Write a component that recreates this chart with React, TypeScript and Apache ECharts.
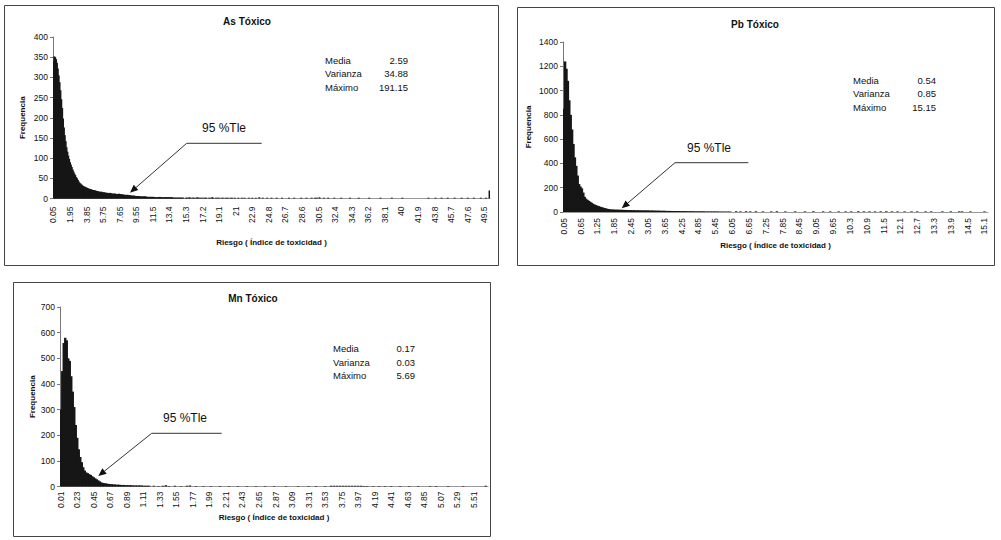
import React, { useEffect, useRef } from "react";
import * as echarts from "echarts";

// ---------- data ----------
const statNames = ["Media", "Varianza", "Máximo"];
const annotationText = "95 %Tle";
const xName = "Riesgo ( Índice de toxicidad )";
const yName = "Frequencia";

// As
const asTitle = "As Tóxico";
const asStats = ["2.59", "34.88", "191.15"];
const asBinStart = 0.05;
const asBinWidth = 0.1;
const asBinCount = 501;
const asLabelStep = 19;
const asTickLabels = ["0.05", "1.95", "3.85", "5.75", "7.65", "9.55", "11.5", "13.4", "15.3", "17.2", "19.1", "21", "22.9", "24.8", "26.7", "28.6", "30.5", "32.4", "34.3", "36.2", "38.1", "40", "41.9", "43.8", "45.7", "47.6", "49.5"];
const asHump = [
  340, 352, 350, 345, 336, 322, 305, 288, 268, 246, 224, 198, 176, 157, 142, 127, 116, 106, 98, 90,
  84, 78, 72, 67, 62, 58, 53, 50, 46, 42, 39, 37, 35, 33, 31, 30, 29, 28, 27, 26,
  25, 24, 23, 23, 22, 21, 21, 20, 20, 19, 18, 18, 17, 17, 16, 17, 16, 15, 15, 15,
  14, 14, 14, 13, 13, 14, 13, 12, 12, 12, 12, 12, 11, 11, 11, 12, 11, 11, 10, 10,
  10, 9, 9, 9, 8, 9, 8, 8, 8, 7, 7, 7, 7, 7, 6, 6, 6, 6, 6, 5,
  5, 5, 5, 5, 5, 5, 5, 4, 4, 4, 4, 4, 4, 4, 4, 4, 3, 3, 3, 3,
  3, 3, 4, 3, 3, 3, 3, 3, 3, 3, 3, 3, 3, 3, 3, 3, 3, 2, 2, 2,
  2, 2, 2, 2, 2, 2, 2, 2, 2, 2,
];
const asTail = [
  [152, 2], [153, 2], [155, 2], [156, 3], [158, 2], [160, 2], [161, 2], [163, 2], [165, 3], [166, 2],
  [168, 2], [170, 2], [172, 2], [174, 2], [175, 2], [178, 2], [180, 2], [182, 3], [183, 2], [186, 2],
  [188, 2], [190, 2], [193, 2], [195, 2], [198, 2], [200, 2], [203, 2], [205, 2], [208, 2], [212, 2],
  [216, 2], [219, 2], [224, 2], [228, 2], [232, 2], [236, 3], [240, 2], [245, 2], [250, 2], [256, 2],
  [262, 2], [270, 2], [276, 2], [284, 2], [290, 2], [296, 2], [300, 2], [302, 2], [305, 3], [310, 2],
  [315, 2], [322, 2], [330, 2], [340, 2], [350, 2], [362, 2], [375, 2], [388, 2], [400, 2], [430, 2],
  [438, 2], [445, 2], [452, 2], [460, 2], [468, 2], [475, 2], [482, 2], [490, 2], [496, 2], [500, 20],
];

// Pb
const pbTitle = "Pb Tóxico";
const pbStats = ["0.54", "0.85", "15.15"];
const pbBinStart = 0.05;
const pbBinWidth = 0.05;
const pbBinCount = 303;
const pbLabelStep = 12;
const pbTickLabels = ["0.05", "0.65", "1.25", "1.85", "2.45", "3.05", "3.65", "4.25", "4.85", "5.45", "6.05", "6.65", "7.25", "7.85", "8.45", "9.05", "9.65", "10.3", "10.9", "11.5", "12.1", "12.7", "13.3", "13.9", "14.5", "15.1"];
const pbHump = [
  850, 1240, 1180, 1080, 920, 800, 680, 560, 450, 380, 300, 230, 210, 195, 160, 125, 110, 100, 92, 84,
  76, 68, 62, 57, 52, 48, 44, 40, 37, 33, 30, 27, 24, 22, 21, 20, 20, 19, 19, 19,
  18, 18, 18, 17, 17, 16, 16, 16, 15, 15, 15, 14, 14, 14, 14, 13, 13, 13, 13, 13,
  13, 12, 12, 12, 12, 11, 11, 11, 11, 10, 10, 10, 10, 9, 9, 9, 9, 8, 8, 8,
  8, 8, 7, 7, 7, 7, 7, 6, 6, 6, 6, 6, 6, 5, 5, 5, 5, 5, 5, 5,
  5, 4, 4, 4, 4, 4, 4, 4, 4, 4, 4, 3, 3, 3, 3, 3, 3, 3, 3, 3,
];
const pbTail = [
  [123, 6], [126, 5], [130, 6], [133, 5], [137, 6], [142, 5], [148, 5], [152, 6], [158, 5], [165, 5],
  [172, 5], [178, 6], [185, 5], [190, 5], [196, 5], [201, 5], [205, 5], [210, 6], [214, 5], [218, 5],
  [222, 5], [226, 5], [230, 6], [234, 5], [238, 5], [243, 5], [248, 5], [252, 5], [258, 5], [262, 5],
  [270, 5], [276, 5], [282, 5], [284, 5], [290, 5], [300, 5],
];

// Mn
const mnTitle = "Mn Tóxico";
const mnStats = ["0.17", "0.03", "5.69"];
const mnBinStart = 0.01;
const mnBinWidth = 0.02;
const mnBinCount = 285;
const mnLabelStep = 11;
const mnTickLabels = ["0.01", "0.23", "0.45", "0.67", "0.89", "1.11", "1.33", "1.55", "1.77", "1.99", "2.21", "2.43", "2.65", "2.87", "3.09", "3.31", "3.53", "3.75", "3.97", "4.19", "4.41", "4.63", "4.85", "5.07", "5.29", "5.51"];
const mnHump = [
  300, 450, 560, 580, 570, 500, 490, 430, 370, 310, 240, 190, 145, 115, 95, 75, 62, 55, 52, 48,
  45, 40, 36, 32, 28, 24, 20, 16, 14, 13, 12, 11, 10, 9, 9, 8, 8, 7, 7, 7,
  6, 6, 6, 5, 5, 5, 5, 5, 4, 4, 4, 4, 4, 4, 4, 3, 3, 3, 3, 3,
];
const mnTail = [
  [62, 3], [65, 2], [68, 3], [70, 5], [72, 2], [76, 3], [80, 2], [84, 3], [86, 4], [90, 2],
  [95, 2], [100, 2], [106, 2], [112, 2], [118, 2], [124, 2], [130, 2], [136, 2], [142, 2], [150, 2],
  [158, 2], [165, 2], [170, 2], [176, 2], [180, 3], [182, 3], [184, 3], [186, 3], [188, 3], [190, 3],
  [192, 3], [194, 3], [196, 3], [198, 3], [200, 3], [202, 2], [204, 2], [208, 2], [212, 2], [216, 2],
  [220, 2], [226, 2], [232, 2], [238, 2], [246, 2], [250, 2], [258, 2], [268, 2], [283, 3],
];

// ---------- helpers ----------
const FONT = '"Liberation Sans", Arial, sans-serif';
const BAR = "#161616";

function buildCounts(n: number, hump: number[], tail: number[][]) {
  const a: (number | null)[] = new Array(n).fill(null);
  hump.forEach((v, i) => (a[i] = v));
  tail.forEach(([i, v]) => (a[i] = v));
  return a;
}
function buildCats(n: number, start: number, width: number) {
  return Array.from({ length: n }, (_, i) => (start + i * width).toFixed(2));
}

function arrow(x1: number, y1: number, x2: number, y2: number, hx: number) {
  const dx = x2 - x1, dy = y2 - y1;
  const len = Math.sqrt(dx * dx + dy * dy);
  const ux = dx / len, uy = dy / len;
  const px = -uy, py = ux;
  const bl = 8, bw = 3.5;
  const bx = x2 - ux * bl, by = y2 - uy * bl;
  return [
    { type: "line", shape: { x1: hx, y1, x2: x1, y2: y1 }, style: { stroke: "#333", lineWidth: 1 } },
    { type: "line", shape: { x1, y1, x2: bx, y2: by }, style: { stroke: "#333", lineWidth: 1 } },
    {
      type: "polygon",
      shape: { points: [[x2, y2], [bx + px * bw, by + py * bw], [bx - px * bw, by - py * bw]] },
      style: { fill: "#111" },
    },
  ];
}

function statsBlock(x: number, y: number, valueRight: number, values: string[]) {
  const out: any[] = [];
  statNames.forEach((n, i) => {
    out.push({ type: "text", x, y: y + i * 13.5, style: { text: n, font: `9.5px ${FONT}`, fill: "#111", align: "left", verticalAlign: "middle" } });
    out.push({ type: "text", x: valueRight, y: y + i * 13.5, style: { text: values[i], font: `9.5px ${FONT}`, fill: "#111", align: "right", verticalAlign: "middle" } });
  });
  return out;
}

function titleText(x: number, y: number, t: string) {
  return { type: "text", x, y, style: { text: t, font: `bold 10px ${FONT}`, fill: "#111", align: "center", verticalAlign: "middle" } };
}
function annot(x: number, y: number) {
  return { type: "text", x, y, style: { text: annotationText, font: `12px ${FONT}`, fill: "#111", align: "center", verticalAlign: "middle" } };
}
function border(x: number, y: number, w: number, h: number) {
  return { type: "rect", z: -1, shape: { x, y, width: w, height: h }, style: { fill: "none", stroke: "#444", lineWidth: 1 } };
}

function xAxisFor(grid: number, cats: string[], ticks: string[], step: number, nameGap: number, margin: number) {
  return {
    type: "category",
    gridIndex: grid,
    data: cats,
    boundaryGap: true,
    name: xName,
    nameLocation: "middle",
    nameGap,
    nameTextStyle: { fontFamily: FONT, fontSize: 8, fontWeight: "bold", color: "#111" },
    axisLine: { show: true, lineStyle: { color: "#999", width: 1 } },
    axisTick: { show: false },
    axisLabel: {
      interval: step - 1,
      rotate: 90,
      margin,
      fontFamily: FONT,
      fontSize: 8.5,
      color: "#111",
      formatter: (_v: string, idx: number) => ticks[Math.round(idx / step)] ?? "",
    },
    splitLine: { show: false },
  };
}
function yAxisFor(grid: number, max: number, interval: number, nameGap: number) {
  return {
    type: "value",
    gridIndex: grid,
    min: 0,
    max,
    interval,
    name: yName,
    nameLocation: "middle",
    nameRotate: 90,
    nameGap,
    nameTextStyle: { fontFamily: FONT, fontSize: 8, fontWeight: "bold", color: "#111" },
    axisLine: { show: true, lineStyle: { color: "#777", width: 1 } },
    axisTick: { show: true, length: 3, lineStyle: { color: "#777" } },
    axisLabel: { margin: 5, fontFamily: FONT, fontSize: 8.5, color: "#111", formatter: (v: number) => String(v) },
    splitLine: { show: false },
  };
}
function barSeries(idx: number, data: (number | null)[], width: number) {
  return {
    type: "bar",
    xAxisIndex: idx,
    yAxisIndex: idx,
    data,
    barWidth: width,
    itemStyle: { color: BAR },
    silent: true,
  };
}

export default function App() {
  const ref = useRef<HTMLDivElement>(null);
  useEffect(() => {
    document.body.style.margin = "0";
    if (!ref.current) return;
    const chart = echarts.init(ref.current, undefined, { renderer: "svg" });

    const asData = buildCounts(asBinCount, asHump, asTail);
    const pbData = buildCounts(pbBinCount, pbHump, pbTail);
    const mnData = buildCounts(mnBinCount, mnHump, mnTail);

    chart.setOption({
      animation: false,
      backgroundColor: "#ffffff",
      grid: [
        { left: 53, top: 37, width: 437, height: 161.5 },
        { left: 563, top: 42, width: 425, height: 170 },
        { left: 60, top: 307, width: 428, height: 179.5 },
      ],
      xAxis: [
        xAxisFor(0, buildCats(asBinCount, asBinStart, asBinWidth), asTickLabels, asLabelStep, 40, 8),
        xAxisFor(1, buildCats(pbBinCount, pbBinStart, pbBinWidth), pbTickLabels, pbLabelStep, 29, 6),
        xAxisFor(2, buildCats(mnBinCount, mnBinStart, mnBinWidth), mnTickLabels, mnLabelStep, 27, 5),
      ],
      yAxis: [yAxisFor(0, 400, 50, 27), yAxisFor(1, 1400, 200, 31), yAxisFor(2, 700, 100, 24)],
      series: [barSeries(0, asData, 2), barSeries(1, pbData, 2.4), barSeries(2, mnData, 2.4)],
      graphic: [
        border(4.5, 5.5, 494, 260),
        border(517.5, 7.5, 477, 258),
        border(13.5, 282.5, 477, 254),
        titleText(247, 21, asTitle),
        titleText(755, 24, pbTitle),
        titleText(253, 298, mnTitle),
        ...statsBlock(325, 60, 408, asStats),
        ...statsBlock(853, 80, 936, pbStats),
        ...statsBlock(333, 348.5, 415, mnStats),
        annot(224, 128),
        annot(709, 148),
        annot(185, 418),
        ...arrow(186.7, 143.3, 130, 192.7, 261.7),
        ...arrow(675, 162.7, 621.7, 208.3, 748.3),
        ...arrow(151.7, 433.3, 98.3, 476, 221.7),
      ],
    });
    return () => chart.dispose();
  }, []);
  return <div ref={ref} style={{ width: 1001, height: 540 }} />;
}
